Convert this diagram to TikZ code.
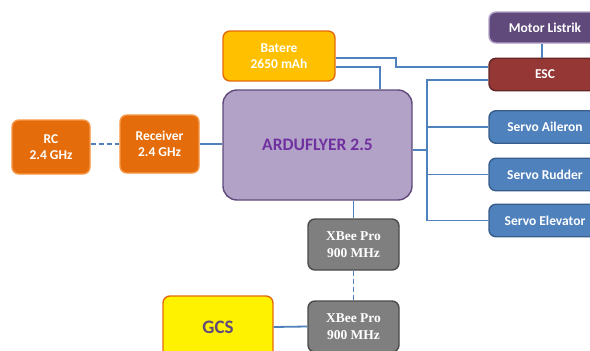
\documentclass[tikz,border=0pt]{standalone}
\usepackage{fontspec}
\setmainfont{Carlito}
\newfontfamily\xbfont{Liberation Serif}
\usetikzlibrary{calc}
\definecolor{conn}{HTML}{4F81BD}
\definecolor{orfill}{HTML}{E46C0A}
\definecolor{ordraw}{HTML}{F79646}
\definecolor{batfill}{HTML}{FFC000}
\definecolor{ardfill}{HTML}{B3A2C7}
\definecolor{arddraw}{HTML}{604A7B}
\definecolor{ardtext}{HTML}{7030A0}
\definecolor{motfill}{HTML}{604A7B}
\definecolor{motdraw}{HTML}{B3A2C7}
\definecolor{escfill}{HTML}{953735}
\definecolor{escdraw}{HTML}{632523}
\definecolor{srvfill}{HTML}{4F81BD}
\definecolor{srvdraw}{HTML}{385D8A}
\definecolor{xbfill}{HTML}{7F7F7F}
\definecolor{xbdraw}{HTML}{4A4A4A}
\definecolor{gcstext}{HTML}{604A7B}
\tikzset{
  box/.style={rectangle, rounded corners=7pt, line width=1.4pt, align=center,
    font=\bfseries\fontsize{13.5}{16}\selectfont, text=white, inner sep=0pt},
  orbox/.style={box, fill=orfill, draw=ordraw},
  rbox/.style={box, minimum width=112pt, minimum height=32.5pt},
  xbbox/.style={box, fill=xbfill, draw=xbdraw, minimum width=91pt, minimum height=51pt,
    font=\xbfont\bfseries\fontsize{13.5}{16.5}\selectfont},
  conline/.style={draw=conn, line width=1.8pt},
  dashline/.style={conline, dash pattern=on 5pt off 3pt}
}
\begin{document}
\begin{tikzpicture}[x=1pt,y=-1pt]
\useasboundingbox (0,0) rectangle (590,351);
\clip (0,0) rectangle (590,351);
\fill[white] (0,0) rectangle (590,351);
% nodes
\node[orbox, minimum width=78pt, minimum height=54pt] (RC) at (51,147) {RC\\2.4 GHz};
\node[orbox, minimum width=79pt, minimum height=58pt] (Rec) at (159.5,144) {Receiver\\2.4 GHz};
\node[box, fill=ardfill, draw=arddraw, rounded corners=14pt, minimum width=189pt, minimum height=110pt,
  text=ardtext, font=\bfseries\fontsize{17.5}{20}\selectfont] (Ardu) at (317.5,145) {ARDUFLYER 2.5};
\node[box, fill=batfill, draw=orfill, minimum width=112pt, minimum height=50pt] (Bat) at (279,56) {Batere\\2650 mAh};
\node[rbox, fill=motfill, draw=motdraw, minimum height=31pt] (Mot) at (545,27.5) {Motor Listrik};
\node[rbox, fill=escfill, draw=escdraw] (ESC) at (545,74.5) {ESC};
\node[rbox, fill=srvfill, draw=srvdraw] (Ail) at (545,127) {Servo Aileron};
\node[rbox, fill=srvfill, draw=srvdraw] (Rud) at (545,174.5) {Servo Rudder};
\node[rbox, fill=srvfill, draw=srvdraw] (Elev) at (545,220.5) {Servo Elevator};
\node[xbbox] (XB1) at (353.5,244.5) {XBee Pro\\900 MHz};
\node[xbbox] (XB2) at (353.5,326.5) {XBee Pro\\900 MHz};
\node[box, fill=yellow, draw=orfill, minimum width=110pt, minimum height=62pt, text=gcstext,
  font=\bfseries\fontsize{19}{22}\selectfont] (GCS) at (218,327) {GCS};
\coordinate (bus) at (427,0);
% connectors
\draw[dashline] (RC.east |- Rec.west) -- (Rec.west);
\draw[conline] (Rec.east) -- (Rec.east -| Ardu.west);
\draw[conline] ([yshift=-2pt]Bat.east) -- ++(60,0) |- ([yshift=7.5pt]ESC.west);
\draw[conline] ([yshift=-11pt]Bat.east) -| ([xshift=62.5pt]Ardu.north);
\draw[conline] ([xshift=-3pt]Mot.south) -- ([xshift=-3pt]ESC.north);
\draw[conline] ([yshift=-5.5pt]ESC.west) -| (bus |- Elev.west) -- (Elev.west);
\draw[conline] (bus |- Ail.west) -- (Ail.west);
\draw[conline] (bus |- Rud.west) -- (Rud.west);
\draw[conline] ([yshift=-5pt]Ardu.east) -- ++(15,0);
\draw[conline] (XB1.north) -- (XB1.north |- Ardu.south);
\draw[dashline] (XB1.south) -- (XB2.north);
\draw[conline] (GCS.east) -- (XB2.west);
\end{tikzpicture}
\end{document}
